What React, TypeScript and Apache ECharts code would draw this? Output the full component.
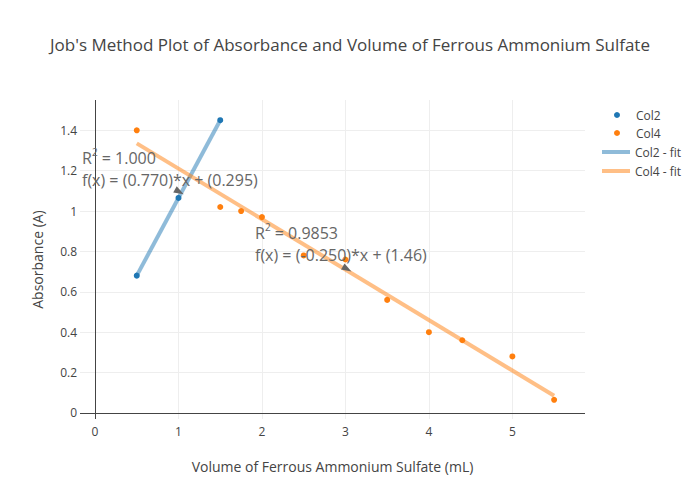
import React, { useEffect, useRef } from "react";
import * as echarts from "echarts";

const col2X = [0.5, 1.0, 1.5];
const col2Y = [0.68, 1.065, 1.45];
const col4X = [0.5, 1.5, 1.75, 2.0, 2.5, 3.0, 3.5, 4.0, 4.4, 5.0, 5.5];
const col4Y = [1.4, 1.02, 1.0, 0.97, 0.78, 0.76, 0.56, 0.4, 0.36, 0.28, 0.065];
const col2FitX = [0.5, 1.5];
const col2FitY = [0.68, 1.45];
const col4FitX = [0.5, 5.5];
const col4FitY = [1.335, 0.085];
const xGridTicks = [1, 2, 3, 4, 5];
const yGridTicks = [0.2, 0.4, 0.6, 0.8, 1.0, 1.2, 1.4];
const arrowPoints: [number, number][] = [
  [1.01, 1.095],
  [3.02, 0.713],
];

const zip = (xs: number[], ys: number[]) => xs.map((x, i) => [x, ys[i]]);

const FONT = "Open Sans";

export default function App() {
  const ref = useRef<HTMLDivElement>(null);
  useEffect(() => {
    if (!ref.current) return;
    const chart = echarts.init(ref.current, undefined, { renderer: "svg" });
    const option: any = {
      animation: false,
      backgroundColor: "#fff",
      textStyle: { fontFamily: FONT },
      title: {
        text: "Job's Method Plot of Absorbance and Volume of Ferrous Ammonium Sulfate",
        left: "center",
        top: 31,
        textStyle: { fontFamily: FONT, fontSize: 17, fontWeight: "normal", color: "#444" },
      },
      grid: { left: 80, right: 115, top: 100, bottom: 81, containLabel: false },
      legend: [
        {
          orient: "vertical",
          left: 609,
          top: 104,
          itemWidth: 6,
          itemHeight: 6,
          itemGap: 6,
          icon: "circle",
          data: ["Col2", "Col4"],
          textStyle: { fontFamily: FONT, fontSize: 12, color: "#444", padding: [0, 0, 0, 11] },
        },
        {
          orient: "vertical",
          left: 597,
          top: 141,
          itemWidth: 28,
          itemHeight: 4,
          itemGap: 7,
          icon: "rect",
          data: ["Col2 - fit", "Col4 - fit"],
          textStyle: { fontFamily: FONT, fontSize: 12, color: "#444" },
        },
      ],
      xAxis: {
        type: "value",
        min: -0.18,
        max: 5.87,
        splitNumber: 6,
        minInterval: 1,
        maxInterval: 1,
        name: "Volume of Ferrous Ammonium Sulfate (mL)",
        nameLocation: "middle",
        nameGap: 40,
        nameTextStyle: { fontFamily: FONT, fontSize: 14, color: "#444" },
        axisLine: { show: false },
        axisTick: { show: false },
        axisLabel: {
          fontFamily: FONT,
          fontSize: 12,
          color: "#444",
          margin: 6,
          showMinLabel: false,
          showMaxLabel: false,
        },
        splitLine: { show: false },
      },
      yAxis: {
        type: "value",
        min: -0.03,
        max: 1.55,
        minInterval: 0.2,
        maxInterval: 0.2,
        splitNumber: 8,
        name: "Absorbance (A)",
        nameLocation: "middle",
        nameGap: 36,
        nameTextStyle: { fontFamily: FONT, fontSize: 14, color: "#444" },
        axisLine: { show: false },
        axisTick: { show: false },
        axisLabel: {
          fontFamily: FONT,
          fontSize: 12,
          color: "#444",
          margin: 3,
          showMinLabel: false,
          showMaxLabel: false,
        },
        splitLine: { show: false },
      },
      series: [
        {
          name: "grid",
          type: "line",
          data: [],
          z: 0,
          silent: true,
          legendHoverLink: false,
          markLine: {
            silent: true,
            z: 0,
            symbol: "none",
            label: { show: false },
            lineStyle: { color: "#eee", width: 1, type: "solid" },
            data: [
              ...xGridTicks.map((v) => ({ xAxis: v })),
              ...yGridTicks.map((v) => ({ yAxis: v })),
            ],
          },
        },
        {
          name: "zero",
          type: "line",
          data: [],
          z: 1,
          silent: true,
          legendHoverLink: false,
          markLine: {
            silent: true,
            z: 1,
            symbol: "none",
            label: { show: false },
            lineStyle: { color: "#444", width: 1, type: "solid" },
            data: [{ xAxis: 0 }, { yAxis: 0 }],
          },
        },
        {
          name: "Col2 - fit",
          type: "line",
          data: zip(col2FitX, col2FitY),
          showSymbol: false,
          symbol: "none",
          z: 2,
          color: "rgba(31,119,180,0.5)",
          lineStyle: { color: "rgba(31,119,180,0.5)", width: 4 },
          itemStyle: { color: "rgba(31,119,180,0.5)" },
        },
        {
          name: "Col4 - fit",
          type: "line",
          data: zip(col4FitX, col4FitY),
          showSymbol: false,
          symbol: "none",
          z: 2,
          color: "rgba(255,127,14,0.5)",
          lineStyle: { color: "rgba(255,127,14,0.5)", width: 4 },
          itemStyle: { color: "rgba(255,127,14,0.5)" },
        },
        {
          name: "Col2",
          type: "scatter",
          data: zip(col2X, col2Y),
          symbolSize: 6,
          z: 3,
          itemStyle: { color: "#1f77b4", opacity: 1 },
        },
        {
          name: "Col4",
          type: "scatter",
          data: zip(col4X, col4Y),
          symbolSize: 6,
          z: 3,
          itemStyle: { color: "#ff7f0e", opacity: 1 },
        },
        {
          name: "arrows",
          type: "scatter",
          data: arrowPoints,
          symbol: "triangle",
          symbolSize: [7, 10],
          symbolRotate: -120,
          z: 4,
          silent: true,
          itemStyle: { color: "#666", opacity: 1 },
          legendHoverLink: false,
        },
      ],
      graphic: [
        {
          type: "text",
          left: 82,
          top: 147,
          z: 10,
          style: {
            text: "{a|R}{s|2}{a| = 1.000}\n{a|f(x) = (0.770)*x + (0.295)}",
            rich: {
              a: { fontFamily: FONT, fontSize: 16, fill: "#666", lineHeight: 22 },
              s: { fontFamily: FONT, fontSize: 10, fill: "#666", lineHeight: 22, verticalAlign: "top", padding: [0, 0, 6, 0] },
            },
          },
        },
        {
          type: "text",
          left: 255,
          top: 222,
          z: 10,
          style: {
            text: "{a|R}{s|2}{a| = 0.9853}\n{a|f(x) = (-0.250)*x + (1.46)}",
            rich: {
              a: { fontFamily: FONT, fontSize: 16, fill: "#666", lineHeight: 22 },
              s: { fontFamily: FONT, fontSize: 10, fill: "#666", lineHeight: 22, verticalAlign: "top", padding: [0, 0, 6, 0] },
            },
          },
        },
      ],
    };
    chart.setOption(option);
    return () => chart.dispose();
  }, []);
  return (
    <div
      ref={ref}
      style={{ position: "absolute", left: 0, top: 0, width: 700, height: 500 }}
    />
  );
}
